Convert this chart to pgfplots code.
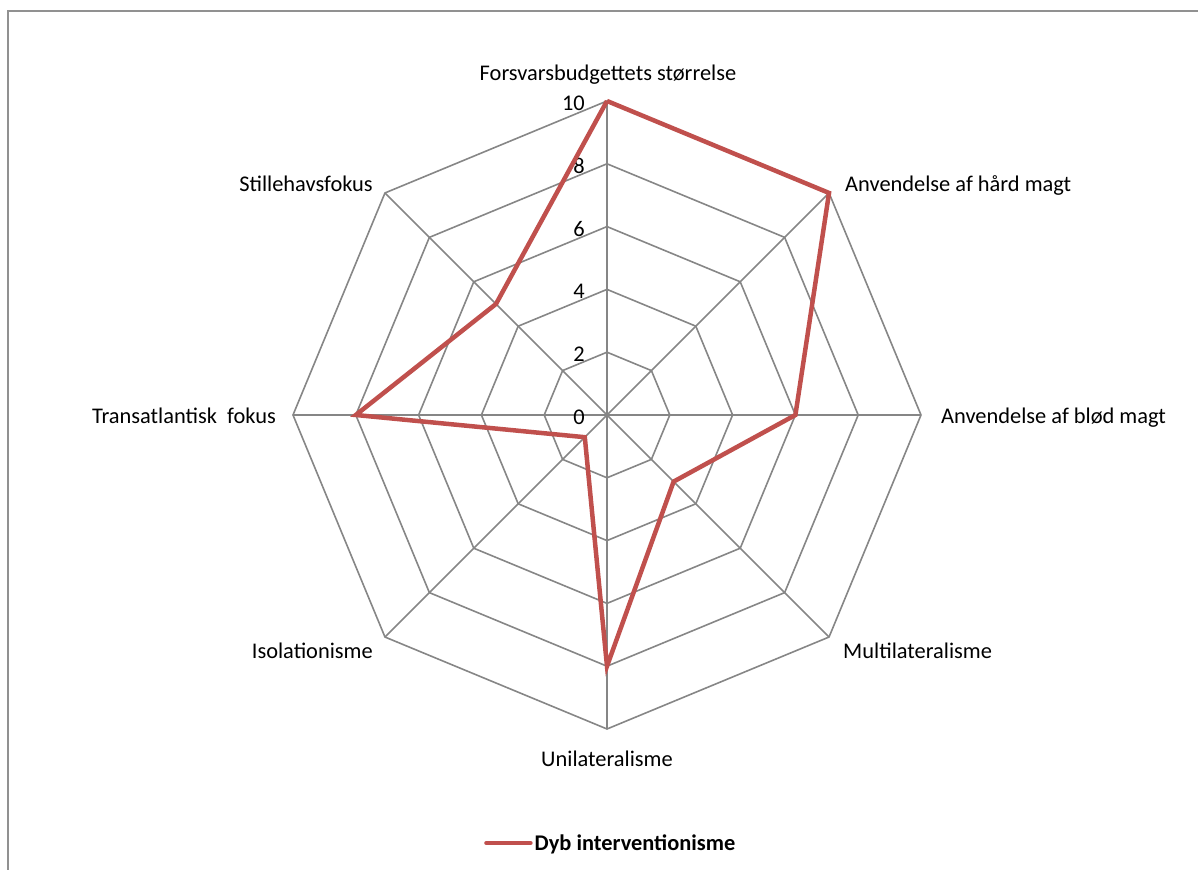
\documentclass[border=0pt]{standalone}
\usepackage{fontspec}
\setmainfont{Carlito}
\usepackage{pgfplots}
\pgfplotsset{compat=1.18}
\usepgfplotslibrary{polar}
\definecolor{seriesred}{RGB}{192,80,77}
\definecolor{gridgray}{RGB}{134,134,134}
\definecolor{framegray}{RGB}{145,145,145}
\newcommand{\lblfont}{\fontsize{22.4bp}{26bp}\selectfont}

\begin{document}
\begin{tikzpicture}[x=1bp,y=1bp]
\useasboundingbox (0,0) rectangle (1198,870);
% chart frame
\draw[framegray, line width=2bp] (8,-10) -- (8,859) -- (1210,859);
\begin{polaraxis}[
  at={(607bp,455bp)}, anchor=center,
  scale only axis, width=628bp, height=628bp,
  ymin=0, ymax=10, xmin=0, xmax=360,
  hide axis, clip=false,
  font=\lblfont,
  legend style={draw=none, fill=none,
    at={(axis description cs:0.506,-0.1815)}, anchor=center,
    font=\lblfont\bfseries},
  legend image code/.code={\draw[#1, line cap=round] (0bp,0bp) -- (44bp,0bp);},
]
% octagonal grid
\pgfplotsinvokeforeach{2,4,6,8,10}{
  \addplot[gridgray, line width=1.6bp, forget plot]
    coordinates {(0,#1)(45,#1)(90,#1)(135,#1)(180,#1)(225,#1)(270,#1)(315,#1)(360,#1)};
}
% spokes
\pgfplotsinvokeforeach{0,45,90,135,180,225,270,315}{
  \addplot[gridgray, line width=1.6bp, forget plot] coordinates {(#1,0)(#1,10)};
}
% radial tick labels
\pgfplotsinvokeforeach{0,2,4,6,8,10}{
  \node[anchor=east, inner sep=0pt, xshift=-22bp, yshift=-2bp] at (axis cs:90,#1) {#1};
}
% series
\addplot[seriesred, line width=4.5bp, line join=miter]
  coordinates {(90,10)(45,10)(0,6)(315,3)(270,8)(225,1)(180,8)(135,5)(90,10)};
\addlegendentry{Dyb interventionisme}
% category labels
\node[anchor=base, inner sep=0pt, yshift=20bp, xshift=1bp] at (axis cs:90,10) {Forsvarsbudgettets størrelse};
\node[anchor=base west, inner sep=0pt, xshift=16bp, yshift=1bp] at (axis cs:45,10) {Anvendelse af hård magt};
\node[anchor=base west, inner sep=0pt, xshift=20bp, yshift=-9bp] at (axis cs:0,10) {Anvendelse af blød magt};
\node[anchor=base west, inner sep=0pt, xshift=14bp, yshift=-21bp] at (axis cs:315,10) {Multilateralisme};
\node[anchor=base, inner sep=0pt, yshift=-38bp] at (axis cs:270,10) {Unilateralisme};
\node[anchor=base east, inner sep=0pt, xshift=-12bp, yshift=-21bp] at (axis cs:225,10) {Isolationisme};
\node[anchor=base east, inner sep=0pt, xshift=-17bp, yshift=-9bp] at (axis cs:180,10) {Transatlantisk\ \ fokus};
\node[anchor=base east, inner sep=0pt, xshift=-12bp, yshift=1bp] at (axis cs:135,10) {Stillehavsfokus};
\end{polaraxis}
\end{tikzpicture}
\end{document}
